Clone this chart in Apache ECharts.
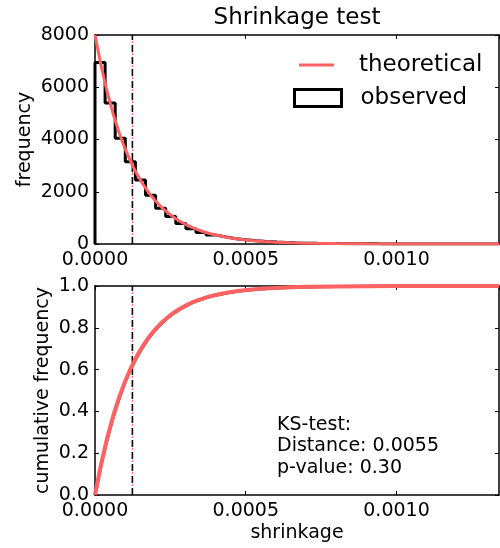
<!DOCTYPE html>
<html>
<head>
<meta charset="utf-8">
<script src="https://cdn.jsdelivr.net/npm/echarts@6/dist/echarts.min.js"></script>
<style>
html,body{margin:0;padding:0;background:#fff;}
#chart{width:500px;height:548px;}
</style>
</head>
<body>
<div id="chart"></div>
<script>
// ---- data ----
var titleText = 'Shrinkage test';
var xMax = 0.00134;
var binStart = 0;
var binWidth = 0.0000335;
var observedCounts = [6950, 5400, 4050, 3150, 2450, 1870, 1370, 1050, 780, 580,
  440, 340, 265, 205, 160, 122, 95, 72, 56, 43,
  33, 26, 20, 15, 12, 9, 7, 5, 4, 3,
  3, 2, 2, 1, 1, 1, 0, 1, 0, 1];
var curveX = [0, 0.00002, 0.00004, 0.00006, 0.00008, 0.0001, 0.00012, 0.00014, 0.00016, 0.00018,
  0.0002, 0.00022, 0.00024, 0.00026, 0.00028, 0.0003, 0.00032, 0.00034, 0.00036, 0.00038,
  0.0004, 0.00044, 0.00048, 0.00052, 0.00056, 0.0006, 0.00065, 0.0007, 0.0008, 0.0009,
  0.001, 0.0011, 0.0012, 0.00134];
var theoreticalDensity = [8000, 6834, 5838, 4988, 4261, 3640, 3110, 2657, 2270, 1939,
  1657, 1415, 1209, 1033, 882, 754, 644, 550, 470, 401,
  343, 250, 183, 133, 97, 71, 48, 32, 15, 7,
  3, 1, 0, 0];
var theoreticalCdf = [0, 0.146, 0.270, 0.377, 0.467, 0.545, 0.611, 0.668, 0.716, 0.758,
  0.793, 0.823, 0.849, 0.871, 0.890, 0.906, 0.920, 0.931, 0.941, 0.950,
  0.957, 0.969, 0.977, 0.983, 0.988, 0.991, 0.994, 0.996, 0.998, 0.999,
  1.0, 1.0, 1.0, 1.0];
var observedCdf = [0, 0.141, 0.265, 0.372, 0.462, 0.541, 0.607, 0.664, 0.712, 0.755,
  0.790, 0.820, 0.846, 0.869, 0.888, 0.904, 0.918, 0.930, 0.940, 0.949,
  0.956, 0.968, 0.976, 0.982, 0.987, 0.990, 0.993, 0.995, 0.998, 0.999,
  1.0, 1.0, 1.0, 1.0];
var meanShrinkage = 0.000124;
var freqTicks = {min: 0, max: 8000, interval: 2000};
var cumTicks = {min: 0, max: 1, interval: 0.2};
var xTicks = {min: 0, max: xMax, interval: 0.0005};
var ksLines = ['KS-test:', 'Distance: 0.0055', 'p-value: 0.30'];
var seriesNames = ['theoretical', 'observed'];

// ---- build ----
var RED = '#ff6262';
var FONT = 'DejaVu Sans';

var stepData = [[binStart, 0]];
for (var i = 0; i < observedCounts.length; i++) {
  stepData.push([binStart + i * binWidth, observedCounts[i]]);
}
stepData.push([binStart + observedCounts.length * binWidth, 0]);

function zip(xs, ys) { return xs.map(function (x, i) { return [x, ys[i]]; }); }

var chart = echarts.init(document.getElementById('chart'), null, {renderer: 'canvas'});

var grids = [
  {left: 95, right: 1, top: 35, height: 209},
  {left: 95, right: 1, top: 286, height: 209}
];

function xAx(grid, pos, show) {
  return {
    type: 'value', gridIndex: grid, position: pos,
    min: xTicks.min, max: xTicks.max, interval: xTicks.interval,
    axisLine: {show: true, onZero: false, lineStyle: {color: '#000', width: 1.5}},
    axisTick: {show: true, inside: true, length: 4, lineStyle: {color: '#000', width: 1}},
    splitLine: {show: false},
    axisLabel: {show: show, margin: 7, showMaxLabel: false, color: '#000', fontFamily: FONT, fontSize: 19,
      formatter: function (v) { return v.toFixed(4); }}
  };
}
function yAx(grid, pos, show, t, dec, name, gap) {
  var o = {
    type: 'value', gridIndex: grid, position: pos,
    min: t.min, max: t.max, interval: t.interval,
    axisLine: {show: true, onZero: false, lineStyle: {color: '#000', width: 1.5}},
    axisTick: {show: true, inside: true, length: 4, lineStyle: {color: '#000', width: 1}},
    splitLine: {show: false},
    axisLabel: {show: show, margin: 6, color: '#000', fontFamily: FONT, fontSize: 19,
      formatter: function (v) { return v.toFixed(dec); }}
  };
  if (name) {
    o.name = name; o.nameLocation = 'middle'; o.nameGap = gap; o.nameMoveOverlap = false;
    o.nameTextStyle = {color: '#000', fontFamily: FONT, fontSize: 19};
  }
  return o;
}

var xBottom2 = xAx(1, 'bottom', true);
xBottom2.name = 'shrinkage';
xBottom2.nameLocation = 'middle';
xBottom2.nameGap = 29;
xBottom2.nameTextStyle = {color: '#000', fontFamily: FONT, fontSize: 19};

function meanLine(xi, yi, top) {
  return [
    {type: 'line', xAxisIndex: xi, yAxisIndex: yi, data: [[meanShrinkage, 0], [meanShrinkage, top]],
      symbol: 'none', silent: true, z: 3,
      lineStyle: {color: '#000', width: 1.6, type: [7, 5]}},
    {type: 'line', xAxisIndex: xi, yAxisIndex: yi, data: [[meanShrinkage, 0], [meanShrinkage, top]],
      symbol: 'none', silent: true, z: 4,
      lineStyle: {color: RED, width: 1, type: [2, 10], dashOffset: 3}}
  ];
}

var option = {
  animation: false,
  backgroundColor: '#fff',
  grid: grids,
  xAxis: [xAx(0, 'bottom', true), xAx(0, 'top', false), xBottom2, xAx(1, 'top', false)],
  yAxis: [
    yAx(0, 'left', true, freqTicks, 0, 'frequency', 60),
    yAx(0, 'right', false, freqTicks, 0),
    yAx(1, 'left', true, cumTicks, 1, 'cumulative frequency', 42),
    yAx(1, 'right', false, cumTicks, 1)
  ],
  legend: [
    {data: [{name: seriesNames[0], icon: 'rect'}], left: 299, top: 53.5, padding: 0,
      itemWidth: 35, itemHeight: 3, selectedMode: false,
      textStyle: {color: '#000', fontFamily: FONT, fontSize: 23, padding: [0, 0, 0, 20]}},
    {data: [{name: seriesNames[1], icon: 'rect', itemStyle: {color: '#fff', borderColor: '#000', borderWidth: 3}}],
      left: 293, top: 86.5, padding: 0,
      itemWidth: 47, itemHeight: 17, selectedMode: false,
      textStyle: {color: '#000', fontFamily: FONT, fontSize: 23, padding: [0, 0, 0, 14]}}
  ],
  series: [
    {name: seriesNames[1], type: 'line', xAxisIndex: 0, yAxisIndex: 0, data: stepData, step: 'end',
      symbol: 'none', z: 2, itemStyle: {color: '#000'}, lineStyle: {color: '#000', width: 3}},
    {name: seriesNames[0], type: 'line', xAxisIndex: 0, yAxisIndex: 0, data: zip(curveX, theoreticalDensity),
      symbol: 'none', z: 5, itemStyle: {color: RED}, lineStyle: {color: RED, width: 3}},
    {name: 'observed cdf', type: 'line', xAxisIndex: 2, yAxisIndex: 2, data: zip(curveX, observedCdf),
      symbol: 'none', z: 2, lineStyle: {color: '#000', width: 3}},
    {name: 'theoretical cdf', type: 'line', xAxisIndex: 2, yAxisIndex: 2, data: zip(curveX, theoreticalCdf),
      symbol: 'none', z: 5, lineStyle: {color: RED, width: 4}}
  ].concat(meanLine(0, 0, freqTicks.max)).concat(meanLine(2, 2, cumTicks.max)),
  graphic: [
    {type: 'text', x: 297, y: 18.5, style: {text: titleText, fill: '#000', font: '23px "DejaVu Sans"',
      textAlign: 'center', textVerticalAlign: 'middle'}},
    {type: 'text', x: 277, y: 425, style: {text: ksLines[0], fill: '#000', font: '19px "DejaVu Sans"', textVerticalAlign: 'middle'}},
    {type: 'text', x: 277, y: 446.5, style: {text: ksLines[1], fill: '#000', font: '19px "DejaVu Sans"', textVerticalAlign: 'middle'}},
    {type: 'text', x: 277, y: 468, style: {text: ksLines[2], fill: '#000', font: '19px "DejaVu Sans"', textVerticalAlign: 'middle'}}
  ]
};
chart.setOption(option);
</script>
</body>
</html>
